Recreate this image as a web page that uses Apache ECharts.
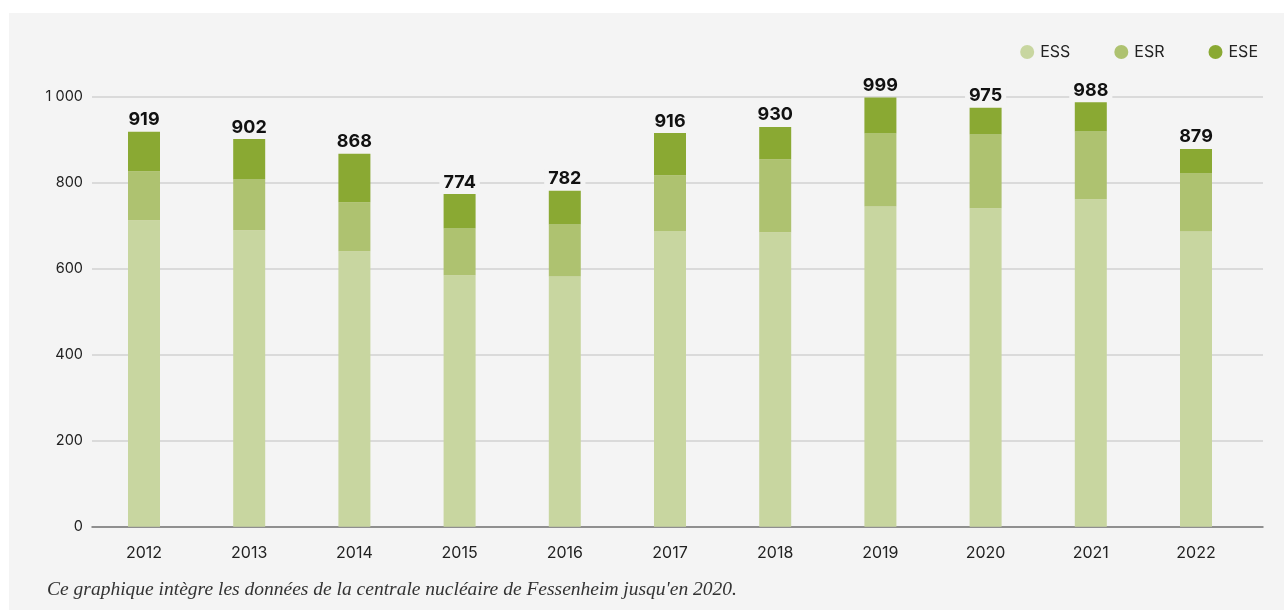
<!DOCTYPE html>
<html>
<head>
<meta charset="utf-8">
<style>
  html, body { margin: 0; padding: 0; background: #ffffff; }
  #panel { position: absolute; left: 9px; top: 13px; width: 1275px; height: 597px; background: #f4f4f4; }
</style>
<script src="https://cdn.jsdelivr.net/npm/echarts@6/dist/echarts.min.js"></script>
</head>
<body>
<div id="panel"></div>
<script>
// Années et effectifs par catégorie
const years = ['2012', '2013', '2014', '2015', '2016', '2017', '2018', '2019', '2020', '2021', '2022'];
const ess = [713, 690, 641, 585, 582, 688, 685, 745, 741, 762, 687];
const esr = [114, 118, 114, 109, 121, 130, 170, 170, 172, 158, 135];
const ese = [92, 94, 113, 80, 79, 98, 75, 84, 62, 68, 57];
const yTicks = [0, 200, 400, 600, 800, 1000];
const caption = "Ce graphique intègre les données de la centrale nucléaire de Fessenheim jusqu'en 2020.";

const totals = years.map((_, i) => ess[i] + esr[i] + ese[i]);
const font = 'Inter, "Noto Sans", sans-serif';
const bg = '#f4f4f4';

const chart = echarts.init(document.getElementById('panel'), null, { renderer: 'canvas' });

function seriesOf(name, data, color, withTotal) {
  const s = {
    name: name,
    type: 'bar',
    stack: 'total',
    xAxisIndex: 1,
    yAxisIndex: 1,
    data: data,
    barWidth: 32,
    itemStyle: { color: color },
    emphasis: { disabled: true }
  };
  if (withTotal) {
    s.label = {
      show: true,
      position: 'top',
      distance: 3,
      formatter: p => String(totals[p.dataIndex]),
      fontFamily: font,
      fontWeight: 'bold',
      fontSize: 18,
      color: '#111111',
      backgroundColor: bg,
      padding: [1, 4, 0, 4]
    };
  }
  return s;
}

const yBase = {
  type: 'value',
  min: yTicks[0],
  max: yTicks[yTicks.length - 1],
  interval: 200
};

chart.setOption({
  backgroundColor: bg,
  animation: false,
  textStyle: { fontFamily: font },
  legend: {
    right: 21,
    top: 26,
    itemWidth: 14,
    itemHeight: 14,
    itemGap: 44,
    icon: 'circle',
    textStyle: { fontFamily: font, fontSize: 16, color: '#222222', padding: [0, 0, 0, 1] },
    data: ['ESS', 'ESR', 'ESE']
  },
  grid: [
    // frame: gridlines and baseline
    { left: 83, right: 21, top: 84, bottom: 83.3 },
    // bars
    { left: 82.4, right: 35.4, top: 84, bottom: 83.3 }
  ],
  xAxis: [{
    gridIndex: 0,
    type: 'category',
    data: years,
    axisTick: { show: false },
    axisLabel: { show: false },
    axisLine: { lineStyle: { color: '#777777', width: 1.5 } }
  }, {
    gridIndex: 1,
    type: 'category',
    data: years,
    axisTick: { show: false },
    axisLine: { show: false },
    axisLabel: { color: '#222222', fontSize: 16, fontFamily: font, margin: 18 }
  }],
  yAxis: [Object.assign({}, yBase, {
    gridIndex: 0,
    axisLine: { show: false },
    axisTick: { show: false },
    splitLine: { lineStyle: { color: '#d2d2d2', width: 1.5 } },
    axisLabel: {
      color: '#222222',
      fontSize: 14.5,
      fontFamily: font,
      margin: 9,
      formatter: v => String(v).replace(/\B(?=(\d{3})+(?!\d))/g, ' ')
    }
  }), Object.assign({}, yBase, {
    gridIndex: 1,
    show: false,
    splitLine: { show: false }
  })],
  series: [
    seriesOf('ESS', ess, '#c8d6a0', false),
    seriesOf('ESR', esr, '#aec270', false),
    seriesOf('ESE', ese, '#8aa933', true)
  ],
  graphic: [{
    type: 'text',
    left: 38,
    top: 567,
    style: {
      text: caption,
      fill: '#333333',
      font: 'italic 19.5px "Liberation Serif", "DejaVu Serif", serif'
    }
  }]
});
</script>
</body>
</html>
